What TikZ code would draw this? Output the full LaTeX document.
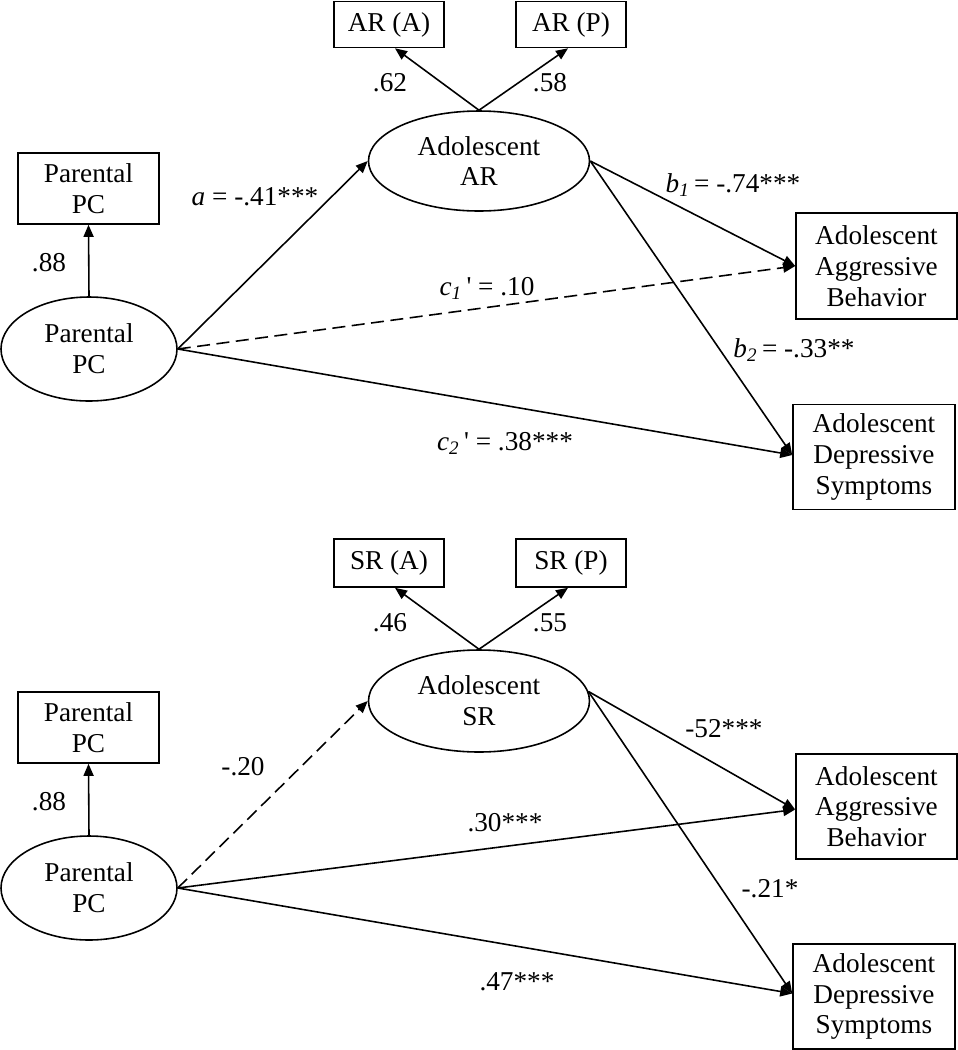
\documentclass[tikz,border=0pt]{standalone}
\usepackage{fontspec}
\setmainfont{Liberation Serif}
\usetikzlibrary{arrows.meta,shapes.geometric,calc}
\tikzset{
  every node/.style={font=\fontsize{15.5}{17.5}\selectfont},
  obs/.style={draw,line width=0.9pt,rectangle,inner sep=0pt,align=center},
  lat/.style={draw,line width=0.9pt,ellipse,inner sep=0pt,align=center},
  path/.style={line width=0.9pt,-{Triangle[length=2.4mm,width=2mm]}},
  nspath/.style={path,dash pattern=on 2.6mm off 1.3mm},
  lbl/.style={inner sep=0pt}
}
\begin{document}
\begin{tikzpicture}[x=0.2mm,y=-0.2mm]
\useasboundingbox (0,0) rectangle (958,1050);
% ---------- top model ----------
\node[obs,minimum width=110*0.2mm,minimum height=46*0.2mm] (ARA) at (389,24.5) {AR (A)};
\node[obs,minimum width=110*0.2mm,minimum height=46*0.2mm] (ARP) at (571,24.5) {AR (P)};
\node[lat,minimum width=221*0.2mm,minimum height=100*0.2mm] (AR) at (479,161) {Adolescent\\AR};
\node[obs,minimum width=141*0.2mm,minimum height=71*0.2mm] (PCb1) at (88.5,188.5) {Parental\\PC};
\node[lat,minimum width=176*0.2mm,minimum height=104*0.2mm] (PCe1) at (89,349) {Parental\\PC};
\node[obs,minimum width=161*0.2mm,minimum height=106*0.2mm] (AGG1) at (876.5,266) {Adolescent\\Aggressive\\Behavior};
\node[obs,minimum width=162*0.2mm,minimum height=105*0.2mm] (DEP1) at (874,457) {Adolescent\\Depressive\\Symptoms};

\draw[path] (AR.north) -- ($(ARA.south)+(6,0)$);
\draw[path] (AR.north) -- ($(ARP.south)+(-3,0)$);
\draw[path] (PCe1.north) -- (PCb1.south);
\draw[path] (PCe1.east) -- (AR.west);
\draw[nspath] (PCe1.east) -- (AGG1.west);
\draw[path] (PCe1.east) -- ($(DEP1.west)+(0,-2)$);
\draw[path] (AR.east) -- (AGG1.west);
\draw[path] (AR.east) -- ($(DEP1.west)+(0,-2)$);

\node[lbl] (l62) at (390,83) {.62};
\node[lbl] (l58) at (550,83) {.58};
\node[lbl] (l88a) at (49,263) {.88};
\node[lbl] (la) at (255,197) {{\itshape a} = -.41***};
\node[lbl] (lc1) at (487,288) {{\itshape c\textsubscript{1}}\,\textquotesingle\ = .10};
\node[lbl] (lb1) at (733,185) {{\itshape b\textsubscript{1}}\,= -.74***};
\node[lbl] (lb2) at (794,350) {{\itshape b\textsubscript{2}}\,= -.33**};
\node[lbl] (lc2) at (505,443) {{\itshape c\textsubscript{2}}\,\textquotesingle\ = .38***};

% ---------- bottom model ----------
\node[obs,minimum width=110*0.2mm,minimum height=48*0.2mm] (SRA) at (389,563) {SR (A)};
\node[obs,minimum width=110*0.2mm,minimum height=48*0.2mm] (SRP) at (571,563) {SR (P)};
\node[lat,minimum width=221*0.2mm,minimum height=102*0.2mm] (SR) at (479,701) {Adolescent\\SR};
\node[obs,minimum width=141*0.2mm,minimum height=71*0.2mm] (PCb2) at (88.5,727.5) {Parental\\PC};
\node[lat,minimum width=176*0.2mm,minimum height=104*0.2mm] (PCe2) at (89,888) {Parental\\PC};
\node[obs,minimum width=161*0.2mm,minimum height=105*0.2mm] (AGG2) at (876.5,806.5) {Adolescent\\Aggressive\\Behavior};
\node[obs,minimum width=162*0.2mm,minimum height=105*0.2mm] (DEP2) at (874,996.5) {Adolescent\\Depressive\\Symptoms};

\draw[path] (SR.north) -- ($(SRA.south)+(6,0)$);
\draw[path] (SR.north) -- ($(SRP.south)+(-3,0)$);
\draw[path] (PCe2.north) -- (PCb2.south);
\draw[nspath] (PCe2.east) -- (SR.west);
\draw[path] (PCe2.east) -- ($(AGG2.west)+(0,3)$);
\draw[path] (PCe2.east) -- ($(DEP2.west)+(0,-3)$);
\draw[path] (SR.5) -- ($(AGG2.west)+(0,3)$);
\draw[path] (SR.5) -- ($(DEP2.west)+(0,-3)$);

\node[lbl] (l46) at (390,623) {.46};
\node[lbl] (l55) at (550,623) {.55};
\node[lbl] (l88b) at (49,802) {.88};
\node[lbl] (l20) at (243,767) {-.20};
\node[lbl] (l30) at (505,823) {.30***};
\node[lbl] (l52) at (724,729) {-52***};
\node[lbl] (l21) at (770,889) {-.21*};
\node[lbl] (l47) at (517,982) {.47***};
\end{tikzpicture}
\end{document}
